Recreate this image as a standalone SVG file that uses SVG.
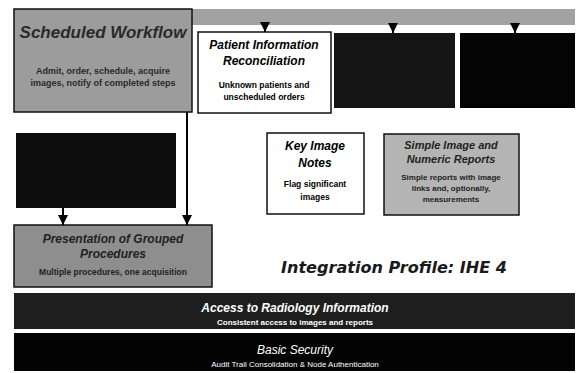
<svg xmlns="http://www.w3.org/2000/svg" width="581" height="373" viewBox="0 0 581 373">
<style>
.t{font-family:"Liberation Sans",Arial,sans-serif;text-anchor:middle}
.bi{font-weight:bold;font-style:italic}
.b{font-weight:bold}
.box{stroke:#111;stroke-width:1.5}
.ln{stroke:#000;stroke-width:2;fill:none}
</style>
<defs>
<marker id="ah" viewBox="0 0 10 10" refX="9" refY="5" markerWidth="4.5" markerHeight="4.5" orient="auto" markerUnits="userSpaceOnUse">
<path d="M0,0 L10,5 L0,10 z" fill="#000"/>
</marker>
<marker id="a" viewBox="0 0 10 10" refX="10" refY="5" markerWidth="10" markerHeight="10" orient="auto" markerUnits="userSpaceOnUse">
<path d="M0,0 L10,5 L0,10 z" fill="#000"/>
</marker>
</defs>
<rect width="581" height="373" fill="#fff"/>
<g id="sched-bar"><rect x="190" y="9" width="385" height="16" fill="#a2a2a2"/></g>
<g id="scheduled-workflow">
<rect class="box" x="14" y="9" width="178" height="103" fill="#9c9c9c"/>
<text class="t bi" x="103" y="38" font-size="17" fill="#2a2a2a">Scheduled Workflow</text>
<text class="t b" x="103" y="74" font-size="9" fill="#2a2a2a">Admit, order, schedule, acquire</text>
<text class="t b" x="103" y="86" font-size="9" fill="#2a2a2a">images, notify of completed steps</text>
</g>
<g id="patient-info">
<rect class="box" x="198" y="32" width="133" height="81" fill="#fff"/>
<text class="t bi" x="264" y="49" font-size="12">Patient Information</text>
<text class="t bi" x="264" y="65" font-size="12">Reconciliation</text>
<text class="t b" x="264" y="88" font-size="8.5">Unknown patients and</text>
<text class="t b" x="264" y="100" font-size="8.5">unscheduled orders</text>
</g>
<g id="dark-box-1"><rect x="334" y="33" width="121" height="75" fill="#141414"/></g>
<g id="dark-box-2"><rect x="460" y="33" width="115" height="75" fill="#040404"/></g>
<g id="dark-box-3"><rect x="16" y="133" width="160" height="75" fill="#0c0c0c"/></g>
<g id="key-image-notes">
<rect class="box" x="267" y="133" width="97" height="81" fill="#fff"/>
<text class="t bi" x="315" y="150" font-size="12">Key Image</text>
<text class="t bi" x="315" y="167" font-size="12">Notes</text>
<text class="t b" x="315" y="187" font-size="8.5">Flag significant</text>
<text class="t b" x="315" y="200" font-size="8.5">images</text>
</g>
<g id="simple-image-reports">
<rect class="box" x="384" y="134" width="135" height="81" fill="#b4b4b4"/>
<text class="t bi" x="451" y="149" font-size="11" fill="#222">Simple Image and</text>
<text class="t bi" x="451" y="163" font-size="11" fill="#222">Numeric Reports</text>
<text class="t b" x="451" y="180" font-size="8" fill="#222">Simple reports with image</text>
<text class="t b" x="451" y="191" font-size="8" fill="#222">links and, optionally,</text>
<text class="t b" x="451" y="202" font-size="8" fill="#222">measurements</text>
</g>
<g id="presentation-grouped">
<rect class="box" x="14" y="225" width="198" height="62" fill="#8e8e8e"/>
<text class="t bi" x="113" y="243" font-size="12" fill="#222">Presentation of Grouped</text>
<text class="t bi" x="113" y="258" font-size="12" fill="#222">Procedures</text>
<text class="t b" x="113" y="275" font-size="8.5" fill="#222">Multiple procedures, one acquisition</text>
</g>
<g id="title">
<text x="394" y="273" font-family="DejaVu Sans,Verdana,sans-serif" font-weight="bold" font-style="italic" font-size="16" text-anchor="middle" fill="#1a1a1a" textLength="226" lengthAdjust="spacingAndGlyphs">Integration Profile: IHE 4</text>
</g>
<g id="access-radiology">
<rect x="14" y="293" width="561" height="36" fill="#1e1e1e"/>
<text class="t bi" x="295" y="312" font-size="12" fill="#fff">Access to Radiology Information</text>
<text class="t b" x="295" y="325" font-size="8" fill="#fff">Consistent access to images and reports</text>
</g>
<g id="basic-security">
<rect x="14" y="333" width="561" height="38" fill="#030303"/>
<text class="t" x="295" y="354" font-size="12" font-style="italic" fill="#fff">Basic Security</text>
<text class="t" x="295" y="367" font-size="8" fill="#fff">Audit Trail Consolidation &amp; Node Authentication</text>
</g>
<g id="connectors">
<line class="ln" x1="265" y1="25" x2="265" y2="32" marker-end="url(#a)"/>
<line class="ln" x1="393" y1="25" x2="393" y2="33" marker-end="url(#a)"/>
<line class="ln" x1="515" y1="25" x2="515" y2="33" marker-end="url(#a)"/>
<line class="ln" x1="187" y1="112" x2="187" y2="225" marker-end="url(#a)"/>
<line class="ln" x1="63" y1="208" x2="63" y2="225" marker-end="url(#a)"/>
</g>
</svg>
